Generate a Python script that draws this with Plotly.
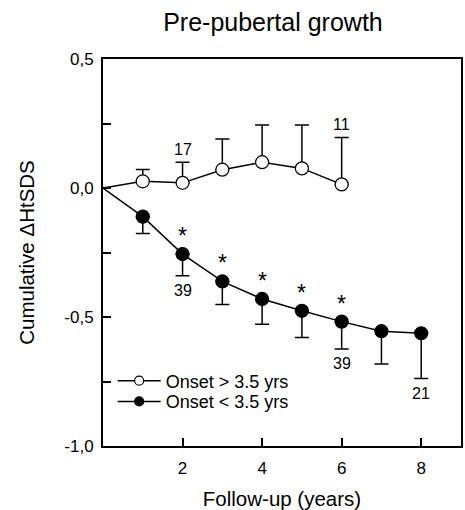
import plotly.graph_objects as go

# Data
years = [0, 1, 2, 3, 4, 5, 6, 7, 8]
late_x = [0, 1, 2, 3, 4, 5, 6]
late_y = [0.0, 0.026, 0.020, 0.071, 0.100, 0.076, 0.014]
late_sd = [0.0, 0.046, 0.080, 0.119, 0.144, 0.168, 0.182]
early_x = [0, 1, 2, 3, 4, 5, 6, 7, 8]
early_y = [0.0, -0.111, -0.256, -0.362, -0.430, -0.476, -0.518, -0.555, -0.563]
early_sd = [0.0, 0.065, 0.084, 0.090, 0.098, 0.103, 0.106, 0.127, 0.175]
star_x = [2, 3, 4, 5, 6]
late_n_x = [2, 6]
late_n_text = ["17", "11"]
early_n_x = [2, 6, 8]
early_n_text = ["39", "39", "21"]
ytick_vals = [-1.0, -0.75, -0.5, -0.25, 0.0, 0.25, 0.5]
ytick_text = ["-1,0", "", "-0,5", "", "0,0", "", "0,5"]
xtick_vals = [2, 4, 6, 8]

FONT = "Liberation Sans, Arial, sans-serif"

fig = go.Figure()

# filled series (below open series)
fig.add_trace(go.Scatter(
    x=early_x, y=early_y, mode="lines+markers", showlegend=False,
    line=dict(color="black", width=1.5),
    marker=dict(size=[0] + [13] * (len(early_x) - 1), color="black", opacity=1,
                line=dict(color="black", width=1.2)),
    error_y=dict(type="data", symmetric=False, array=[0] * len(early_x),
                 arrayminus=early_sd, color="black", thickness=1.5, width=7),
))
fig.add_trace(go.Scatter(
    x=late_x, y=late_y, mode="lines+markers", showlegend=False,
    line=dict(color="black", width=1.5),
    marker=dict(size=[0] + [13] * (len(late_x) - 1), color="white", opacity=1,
                line=dict(color="black", width=1.2)),
    error_y=dict(type="data", symmetric=False, array=late_sd,
                 arrayminus=[0] * len(late_x), color="black", thickness=1.5, width=7),
))

# legend-only entries (one legend per row to match the tight row spacing)
fig.add_trace(go.Scatter(
    x=[None], y=[None], mode="lines+markers", name="Onset > 3.5 yrs", legend="legend",
    line=dict(color="black", width=1.5),
    marker=dict(size=9, color="white", opacity=1, line=dict(color="black", width=1.2)),
))
fig.add_trace(go.Scatter(
    x=[None], y=[None], mode="lines+markers", name="Onset < 3.5 yrs", legend="legend2",
    line=dict(color="black", width=1.5),
    marker=dict(size=9, color="black", opacity=1, line=dict(color="black", width=1.2)),
))

annotations = []
for x in star_x:
    y = early_y[early_x.index(x)]
    annotations.append(dict(x=x, y=y, text="*", showarrow=False, yshift=18,
                            yanchor="middle", font=dict(size=23, color="black", family=FONT)))
for x, t in zip(late_n_x, late_n_text):
    i = late_x.index(x)
    annotations.append(dict(x=x, y=late_y[i] + late_sd[i], text=t, showarrow=False,
                            yshift=13, yanchor="middle",
                            font=dict(size=16, color="black", family=FONT)))
for x, t in zip(early_n_x, early_n_text):
    i = early_x.index(x)
    annotations.append(dict(x=x, y=early_y[i] - early_sd[i], text=t, showarrow=False,
                            yshift=-15, yanchor="middle",
                            font=dict(size=16, color="black", family=FONT)))

legend_common = dict(xanchor="left", yanchor="middle", bgcolor="rgba(0,0,0,0)",
                     borderwidth=0, itemwidth=43,
                     font=dict(size=18, color="black", family=FONT))

fig.update_layout(
    width=465, height=510,
    margin=dict(l=103, r=2, t=59, b=64),
    paper_bgcolor="white", plot_bgcolor="white",
    font=dict(family=FONT, color="black"),
    title=dict(text="Pre-pubertal growth", x=0.587, xanchor="center", y=0.957,
               yanchor="middle", font=dict(size=25, color="black", family=FONT)),
    showlegend=True,
    legend=dict(x=0.027, y=0.168, **legend_common),
    legend2=dict(x=0.027, y=0.1145, **legend_common),
    annotations=annotations,
)
fig.update_xaxes(
    range=[0, 9], tickvals=xtick_vals, ticks="inside", ticklen=8, tickwidth=1.5,
    tickcolor="black", showline=True, linecolor="black", linewidth=2, mirror=True,
    showgrid=False, zeroline=False, tickfont=dict(size=17, family=FONT),
    ticklabelstandoff=6,
    title=dict(text="Follow-up (years)", font=dict(size=20.5, family=FONT), standoff=14),
)
fig.update_yaxes(
    range=[-1.0, 0.5], tickvals=ytick_vals, ticktext=ytick_text, ticks="inside",
    ticklen=8, tickwidth=1.5, tickcolor="black", showline=True, linecolor="black",
    linewidth=2, mirror=True, showgrid=False, zeroline=False,
    tickfont=dict(size=17, family=FONT), ticklabelstandoff=4,
    title=dict(text="Cumulative ΔHtSDS", font=dict(size=20.5, family=FONT), standoff=24),
)

fig.write_html("out.html", config={"displayModeBar": False},
               post_script="document.body.style.margin='0px';")
